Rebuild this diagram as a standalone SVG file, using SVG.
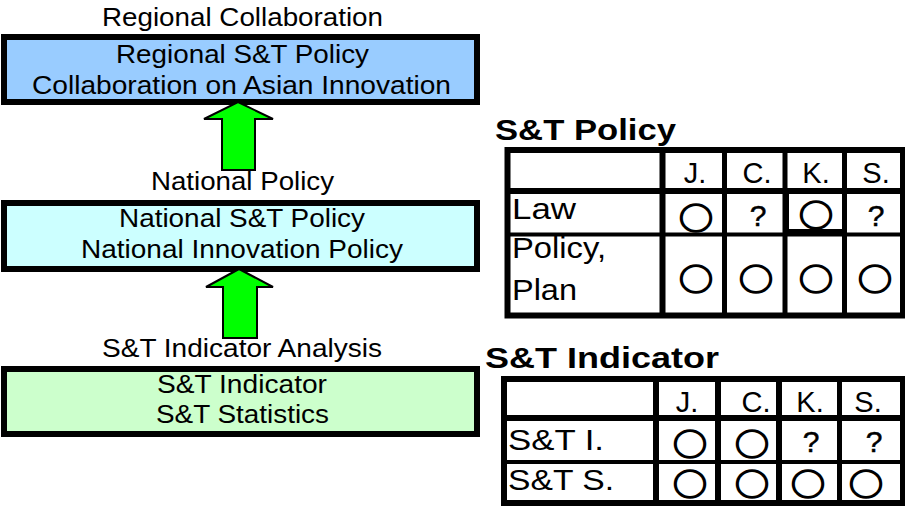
<svg xmlns="http://www.w3.org/2000/svg" width="905" height="507" viewBox="0 0 905 507">
<style>
text{font-family:"Liberation Sans",Arial,sans-serif;fill:#000}
.lbl{font-size:26px;text-anchor:middle}
.hd{font-size:29px;font-weight:bold}
.box{stroke:#000;stroke-width:6}
.arrow{fill:#00ff00;stroke:#000;stroke-width:2;stroke-linejoin:miter}
.tb{fill:#fff;stroke:#000}
.cell{font-size:29px}
.mid{text-anchor:middle}
.mk{font-family:"Noto Sans CJK JP","DejaVu Sans",sans-serif;font-size:30px;text-anchor:middle;dominant-baseline:central;stroke:#000;stroke-width:1.6}
.q{font-size:30px;text-anchor:middle;stroke:#000;stroke-width:0.5}
</style>
<rect width="905" height="507" fill="#fff"/>
<g id="regional">
<text class="lbl" x="242.5" y="26" textLength="281" lengthAdjust="spacingAndGlyphs">Regional Collaboration</text>
<rect class="box" x="4" y="37" width="473" height="65" fill="#99ccff"/>
<text class="lbl" x="242.5" y="63" textLength="253" lengthAdjust="spacingAndGlyphs">Regional S&amp;T Policy</text>
<text class="lbl" x="241.5" y="94" textLength="419" lengthAdjust="spacingAndGlyphs">Collaboration on Asian Innovation</text>
</g>
<g id="national">
<rect class="box" x="4" y="203" width="473" height="66" fill="#ccffff"/>
<text class="lbl" x="242" y="227" textLength="246" lengthAdjust="spacingAndGlyphs">National S&amp;T Policy</text>
<text class="lbl" x="242" y="258" textLength="322" lengthAdjust="spacingAndGlyphs">National Innovation Policy</text>
</g>
<g id="indicator">
<rect class="box" x="4" y="369" width="473" height="65" fill="#ccffcc"/>
<text class="lbl" x="242" y="393" textLength="170" lengthAdjust="spacingAndGlyphs">S&amp;T Indicator</text>
<text class="lbl" x="242.5" y="423" textLength="173" lengthAdjust="spacingAndGlyphs">S&amp;T Statistics</text>
</g>
<g id="connectors">
<polygon class="arrow" points="238,102 273,119 255,119 255,170 222,170 222,119 204,119"/>
<polygon class="arrow" points="239,269 273,287 257,287 257,338 223,338 223,287 206,287"/>
</g>
<g id="labels">
<text class="lbl" x="242.5" y="190" textLength="183" lengthAdjust="spacingAndGlyphs">National Policy</text>
<text class="lbl" x="242" y="357" textLength="280" lengthAdjust="spacingAndGlyphs">S&amp;T Indicator Analysis</text>
</g>
<g id="policy-table">
<text class="hd" x="495" y="140" textLength="181" lengthAdjust="spacingAndGlyphs">S&amp;T Policy</text>
<rect class="tb" x="507.5" y="150" width="395.5" height="165.5" stroke-width="6"/>
<line x1="507.5" y1="191" x2="903" y2="191" stroke="#000" stroke-width="6"/>
<line x1="507.5" y1="234.5" x2="903" y2="234.5" stroke="#000" stroke-width="4"/>
<line x1="662.5" y1="150" x2="662.5" y2="315.5" stroke="#000" stroke-width="6"/>
<line x1="724.5" y1="150" x2="724.5" y2="315.5" stroke="#000" stroke-width="5"/>
<line x1="785" y1="150" x2="785" y2="315.5" stroke="#000" stroke-width="5"/>
<line x1="844.5" y1="150" x2="844.5" y2="315.5" stroke="#000" stroke-width="5"/>
<rect x="785" y="191" width="4" height="43" fill="#000"/>
<rect x="785" y="229" width="59.5" height="4" fill="#000"/>
<text class="cell mid" x="695" y="183">J.</text>
<text class="cell mid" x="757" y="183">C.</text>
<text class="cell mid" x="816" y="183">K.</text>
<text class="cell mid" x="876" y="183">S.</text>
<text class="cell" x="512" y="219" textLength="64" lengthAdjust="spacingAndGlyphs">Law</text>
<text class="cell" x="512" y="258" textLength="94" lengthAdjust="spacingAndGlyphs">Policy,</text>
<text class="cell" x="512" y="300" textLength="65" lengthAdjust="spacingAndGlyphs">Plan</text>
<text class="mk" x="696" y="215.5" textLength="34" lengthAdjust="spacingAndGlyphs">○</text>
<text class="q" x="758" y="226">?</text>
<text class="mk" x="816" y="213" textLength="34" lengthAdjust="spacingAndGlyphs">○</text>
<text class="q" x="876" y="226">?</text>
<text class="mk" x="696" y="276.5" textLength="34" lengthAdjust="spacingAndGlyphs">○</text>
<text class="mk" x="756" y="276.5" textLength="34" lengthAdjust="spacingAndGlyphs">○</text>
<text class="mk" x="816" y="276.5" textLength="34" lengthAdjust="spacingAndGlyphs">○</text>
<text class="mk" x="875" y="276.5" textLength="34" lengthAdjust="spacingAndGlyphs">○</text>
</g>
<g id="indicator-table">
<text class="hd" x="485" y="368" textLength="234" lengthAdjust="spacingAndGlyphs">S&amp;T Indicator</text>
<rect class="tb" x="504" y="379" width="399" height="124" stroke-width="6"/>
<line x1="504" y1="418" x2="903" y2="418" stroke="#000" stroke-width="6"/>
<line x1="504" y1="462" x2="903" y2="462" stroke="#000" stroke-width="4"/>
<line x1="656" y1="379" x2="656" y2="503" stroke="#000" stroke-width="6"/>
<line x1="718" y1="379" x2="718" y2="503" stroke="#000" stroke-width="6"/>
<line x1="779" y1="379" x2="779" y2="503" stroke="#000" stroke-width="6"/>
<line x1="839.5" y1="379" x2="839.5" y2="503" stroke="#000" stroke-width="5"/>
<text class="cell mid" x="687" y="412">J.</text>
<text class="cell mid" x="756" y="412">C.</text>
<text class="cell mid" x="810" y="412">K.</text>
<text class="cell mid" x="868" y="412">S.</text>
<text class="cell" x="508" y="450" textLength="96" lengthAdjust="spacingAndGlyphs">S&amp;T I.</text>
<text class="cell" x="508" y="490" textLength="106" lengthAdjust="spacingAndGlyphs">S&amp;T S.</text>
<text class="mk" x="690" y="441.5" textLength="34" lengthAdjust="spacingAndGlyphs">○</text>
<text class="mk" x="752" y="441.5" textLength="34" lengthAdjust="spacingAndGlyphs">○</text>
<text class="q" x="811" y="452">?</text>
<text class="q" x="874" y="452">?</text>
<text class="mk" x="690" y="482" textLength="34" lengthAdjust="spacingAndGlyphs">○</text>
<text class="mk" x="752" y="482" textLength="34" lengthAdjust="spacingAndGlyphs">○</text>
<text class="mk" x="808" y="482" textLength="34" lengthAdjust="spacingAndGlyphs">○</text>
<text class="mk" x="866" y="482" textLength="34" lengthAdjust="spacingAndGlyphs">○</text>
</g>
</svg>
